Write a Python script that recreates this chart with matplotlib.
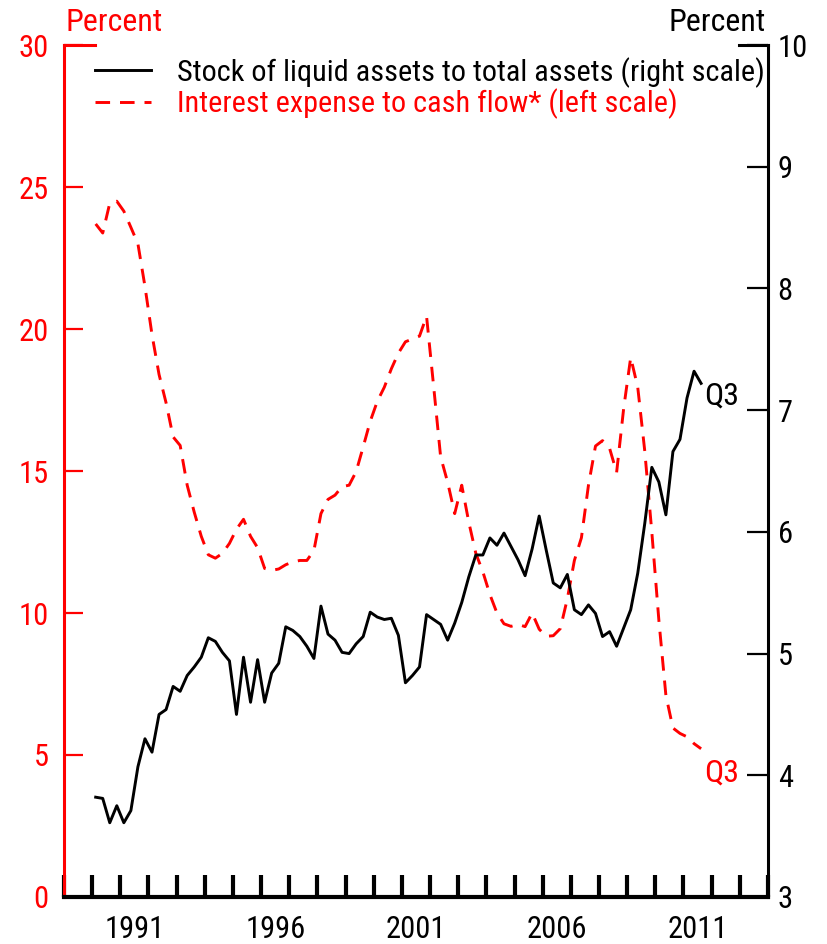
import numpy as np
import pandas as pd
import matplotlib.pyplot as plt

plt.rcParams['font.family'] = ['Roboto Condensed', 'Liberation Sans', 'DejaVu Sans']

# quarterly data, 1990Q1 - 2011Q3
quarters = pd.period_range('1990Q1', '2011Q3', freq='Q')

liquid_assets = [
    3.82, 3.81, 3.61, 3.75, 3.61, 3.71, 4.07, 4.30, 4.19, 4.50, 4.54, 4.73,
    4.69, 4.82, 4.89, 4.97, 5.13, 5.10,
    5.01, 4.94, 4.50, 4.97, 4.60, 4.95, 4.60, 4.84, 4.92, 5.22, 5.19, 5.14,
    5.06, 4.96, 5.39, 5.16, 5.11, 5.01, 5.00, 5.08, 5.14, 5.34, 5.30, 5.28,
    5.29, 5.15, 4.76, 4.82, 4.89, 5.32, 5.28, 5.24, 5.11, 5.25, 5.42,
    5.63, 5.81, 5.81, 5.95, 5.89, 5.99, 5.88, 5.77, 5.64, 5.86, 6.13, 5.85,
    5.58, 5.54, 5.65, 5.36, 5.32, 5.40, 5.33, 5.14, 5.18, 5.06, 5.21, 5.36,
    5.66, 6.07, 6.53, 6.41, 6.14, 6.66, 6.76, 7.10, 7.32, 7.22,
]

interest_expense = [
    23.70, 23.38, 24.43, 24.50, 24.15, 23.58, 23.00, 21.50, 19.80, 18.40,
    17.40, 16.20, 15.90, 14.50, 13.55, 12.70, 12.05, 11.93, 12.10, 12.45,
    12.95, 13.30, 12.70, 12.30, 11.57, 11.50, 11.55, 11.70, 11.80, 11.85,
    11.85, 12.20, 13.50, 14.00, 14.15, 14.45, 14.50, 14.98, 15.85, 16.75,
    17.45, 17.95, 18.60, 19.15, 19.55, 19.65, 19.75, 20.45, 18.00, 15.50,
    14.60, 13.50, 14.50, 13.20, 12.10, 11.45, 10.65, 10.00, 9.62, 9.53,
    9.60, 9.52, 10.00, 9.43, 9.18, 9.20, 9.45, 10.50, 11.85, 12.65,
    14.50, 15.88, 16.07, 15.80, 14.95, 17.20, 19.00, 17.95, 15.70, 12.85,
    9.75, 7.10, 5.95, 5.76, 5.64, 5.40, 5.22,
]

year_labels = ['1991', '1996', '2001', '2006', '2011']

x = np.array([q.year + (q.quarter - 1) / 4 + 0.125 for q in quarters])

fs = 22
red = '#ff0000'

fig = plt.figure(figsize=(8.28, 9.44), dpi=100)
ax = fig.add_axes([0.0773, 0.0498, 0.8502, 0.9025])
ax2 = ax.twinx()

ax.plot(x, interest_expense, color=red, lw=2.1, dashes=(5, 3.4),
        label='Interest expense to cash flow* (left scale)')
ax2.plot(x, liquid_assets, color='black', lw=2.1,
         label='Stock of liquid assets to total assets (right scale)')

ax.set_xlim(1989, 2014)
ax.set_ylim(0, 30)
ax2.set_ylim(3, 10)

# spines
for a in (ax, ax2):
    a.spines['top'].set_visible(False)
ax.spines['left'].set_color(red)
ax.spines['left'].set_linewidth(2.2)
ax2.spines['left'].set_visible(False)
ax2.spines['right'].set_linewidth(2.2)
ax.spines['right'].set_visible(False)
ax2.spines['bottom'].set_visible(False)
ax.spines['bottom'].set_linewidth(3)

# x ticks: every year, labels centred on years
ax.set_xticks(np.arange(1989, 2015))
ax.set_xticklabels([])
ax.tick_params(axis='x', which='major', direction='in', length=16, width=3, color='black')
ax.set_xticks([int(y) + 0.5 for y in year_labels], minor=True)
ax.set_xticklabels(year_labels, minor=True)
ax.tick_params(axis='x', which='minor', length=0, pad=13, labelsize=fs)

ax.set_yticks(np.arange(0, 31, 5))
ax.tick_params(axis='y', direction='in', length=14, width=1.6, color=red,
               labelcolor=red, labelsize=fs, pad=11)
ax2.set_yticks(np.arange(3, 11, 1))
ax2.tick_params(axis='y', direction='in', length=15, width=1.6, color='black',
                labelsize=fs, pad=7)

# corner caps
ax.plot([0, 0.044], [1, 1], transform=ax.transAxes, color=red, lw=2.2, clip_on=False)
ax.plot([0.959, 1], [1, 1], transform=ax.transAxes, color='black', lw=2.2, clip_on=False)

ax.text(0.002, 1.016, 'Percent', transform=ax.transAxes, color=red, fontsize=fs + 1,
        ha='left', va='baseline')
ax.text(0.997, 1.016, 'Percent', transform=ax.transAxes, color='black', fontsize=fs + 1,
        ha='right', va='baseline')

ax2.text(x[-1] + 0.12, liquid_assets[-1] - 0.1, 'Q3', color='black', fontsize=fs + 1,
         ha='left', va='center')
ax.text(x[-1] + 0.12, interest_expense[-1] - 0.85, 'Q3', color=red, fontsize=fs + 1,
        ha='left', va='center')

h1, l1 = ax2.get_legend_handles_labels()
h2, l2 = ax.get_legend_handles_labels()
ax2.legend(h1 + h2, l1 + l2, loc='upper left', bbox_to_anchor=(0.044, 0.986),
           frameon=False, fontsize=21.8, handlelength=1.85, handletextpad=0.85,
           labelspacing=0.02, borderpad=0, borderaxespad=0, labelcolor='linecolor')

fig.savefig('out.png', dpi=100)
